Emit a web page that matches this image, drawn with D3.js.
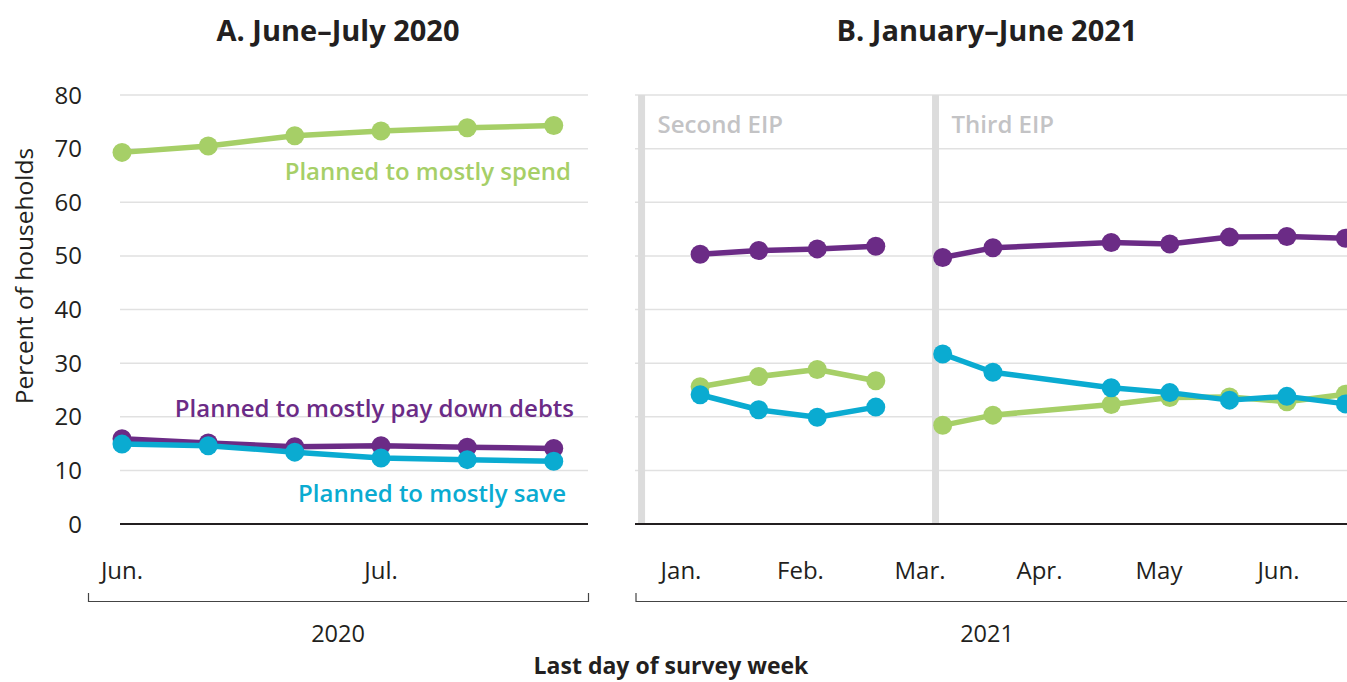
<!DOCTYPE html>
<html>
<head>
<meta charset="utf-8">
<script src="https://cdn.jsdelivr.net/npm/d3@7"></script>
<style>
  body { margin: 0; background: #fff; }
  text { font-family: "Open Sans", sans-serif; fill: #231f20; }
</style>
</head>
<body>
<svg id="chart" width="1347" height="682"></svg>
<script>
// y axis
const yTicks = [0, 10, 20, 30, 40, 50, 60, 70, 80];

// panel A: x in months after Jun. 1 2020
const monthsA = ["Jun.", "Jul."];
const xA = [0, 0.333, 0.667, 1, 1.333, 1.667];
const spendA = [69.3, 70.5, 72.4, 73.3, 73.9, 74.3];
const debtsA = [15.9, 15.1, 14.4, 14.6, 14.3, 14.1];
const saveA = [14.9, 14.6, 13.4, 12.3, 12.0, 11.7];

// panel B: x in months after Jan. 2021, two separate runs (second and third EIP)
const monthsB = ["Jan.", "Feb.", "Mar.", "Apr.", "May", "Jun."];
const xB1 = [0.16, 0.65, 1.14, 1.63];
const xB2 = [2.19, 2.61, 3.6, 4.09, 4.59, 5.07, 5.56];
const spendB1 = [25.6, 27.5, 28.8, 26.7];
const spendB2 = [18.4, 20.3, 22.3, 23.6, 23.7, 22.8, 24.2];
const debtsB1 = [50.3, 51.0, 51.3, 51.8];
const debtsB2 = [49.7, 51.5, 52.5, 52.2, 53.5, 53.6, 53.3];
const saveB1 = [24.1, 21.3, 19.9, 21.8];
const saveB2 = [31.7, 28.3, 25.4, 24.5, 23.1, 23.8, 22.4];
const eipX = [-0.33, 2.13];
const eipLabels = ["Second EIP", "Third EIP"];

const seriesNames = ["Planned to mostly spend", "Planned to mostly pay down debts", "Planned to mostly save"];
const colors = ["#a6cf67", "#6b2b86", "#0aabd1"];

const svg = d3.select("#chart");

const y = d3.scaleLinear().domain([0, 80]).range([524, 95]);
const sxA = d3.scaleLinear().domain([0, 1]).range([122, 381]);
const sxB = d3.scaleLinear().domain([0, 1]).range([681, 800.5]);

const panels = [
  { x0: 120, x1: 588, bx0: 88.5, bx1: 588.5, cx: 338, title: "A. June\u2013July 2020", year: "2020", sx: sxA, months: monthsA },
  { x0: 635, x1: 1347, bx0: 636, bx1: 1352, cx: 987, title: "B. January\u2013June 2021", year: "2021", sx: sxB, months: monthsB }
];

panels.forEach(p => {
  const g = svg.append("g");
  // grid
  g.selectAll("line.grid").data(yTicks.slice(1)).join("line")
    .attr("x1", p.x0).attr("x2", p.x1)
    .attr("y1", d => y(d)).attr("y2", d => y(d))
    .attr("stroke", "#e1e1e1").attr("stroke-width", 1.5);
  // title
  g.append("text").attr("x", p.cx).attr("y", 41)
    .attr("text-anchor", "middle").attr("font-size", 29).attr("font-weight", 700)
    .text(p.title);
  // month labels
  g.selectAll("text.month").data(p.months).join("text")
    .attr("x", (d, i) => p.sx(i)).attr("y", 579)
    .attr("text-anchor", "middle").attr("font-size", 24)
    .text(d => d);
  // bracket
  g.append("path")
    .attr("d", `M${p.bx0},593V601.5H${p.bx1}V593`)
    .attr("fill", "none").attr("stroke", "#444").attr("stroke-width", 1.2);
  g.append("text").attr("x", p.cx).attr("y", 642)
    .attr("text-anchor", "middle").attr("font-size", 23.5).text(p.year);
});

// y axis labels (left panel only)
svg.append("g").selectAll("text").data(yTicks).join("text")
  .attr("x", 82).attr("y", d => y(d) + 8.5)
  .attr("text-anchor", "end").attr("font-size", 24)
  .text(d => d);

svg.append("text")
  .attr("transform", "translate(33,276) rotate(-90)")
  .attr("text-anchor", "middle").attr("font-size", 24.5)
  .text("Percent of households");

// EIP bars
svg.append("g").selectAll("rect").data(eipX).join("rect")
  .attr("x", d => sxB(d) - 3.5).attr("width", 7)
  .attr("y", y(80)).attr("height", y(0) - y(80))
  .attr("fill", "#dcdcdc");
svg.append("g").selectAll("text").data(eipLabels).join("text")
  .attr("x", (d, i) => sxB(eipX[i]) + 16).attr("y", 133)
  .attr("font-size", 24).attr("font-weight", 600)
  .style("fill", "#c3c3c5")
  .text(d => d);

// baselines
panels.forEach(p => {
  svg.append("line").attr("x1", p.x0).attr("x2", p.x1)
    .attr("y1", y(0)).attr("y2", y(0))
    .attr("stroke", "#231f20").attr("stroke-width", 2);
});

// series
const line = d3.line().x(d => d[0]).y(d => y(d[1]));
function drawRun(xs, vals, sx, color) {
  const pts = xs.map((x, i) => [sx(x), vals[i]]);
  const g = svg.append("g");
  g.append("path").attr("d", line(pts))
    .attr("fill", "none").attr("stroke", color).attr("stroke-width", 5.5)
    .attr("stroke-linejoin", "round");
  g.selectAll("circle").data(pts).join("circle")
    .attr("cx", d => d[0]).attr("cy", d => y(d[1])).attr("r", 9.5)
    .attr("fill", color);
}
[[spendA, spendB1, spendB2], [debtsA, debtsB1, debtsB2], [saveA, saveB1, saveB2]].forEach((s, k) => {
  drawRun(xA, s[0], sxA, colors[k]);
  drawRun(xB1, s[1], sxB, colors[k]);
  drawRun(xB2, s[2], sxB, colors[k]);
});

// series labels
const labelPos = [[571, 180], [574, 417], [566, 502]];
svg.append("g").selectAll("text").data(seriesNames).join("text")
  .attr("x", (d, i) => labelPos[i][0]).attr("y", (d, i) => labelPos[i][1])
  .attr("text-anchor", "end").attr("font-size", 24).attr("font-weight", 600)
  .style("fill", (d, i) => colors[i])
  .text(d => d);

// x axis title
svg.append("text").attr("x", 671).attr("y", 674)
  .attr("text-anchor", "middle").attr("font-size", 23).attr("font-weight", 700)
  .text("Last day of survey week");
</script>
</body>
</html>
